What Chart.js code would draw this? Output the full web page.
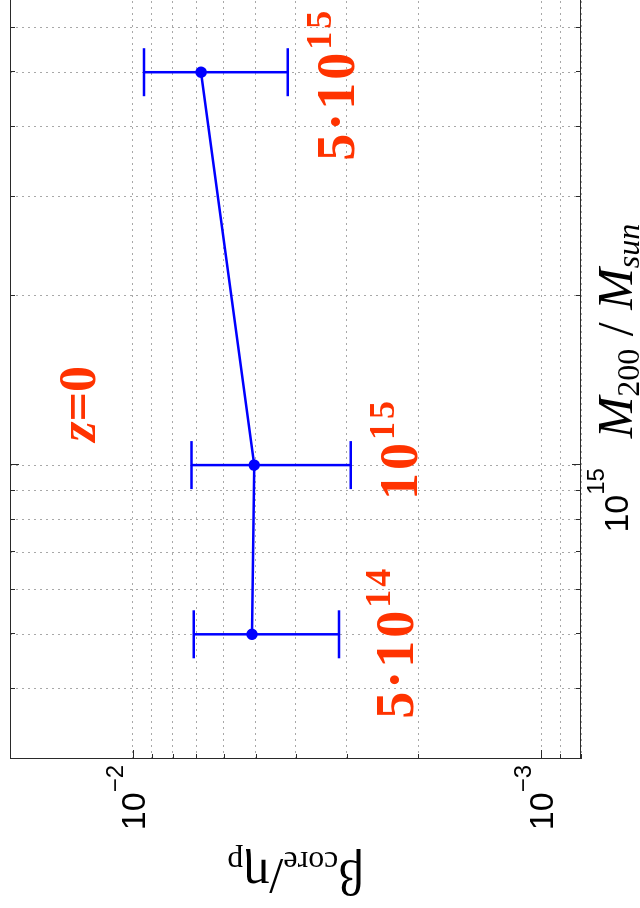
<!DOCTYPE html>
<html>
<head>
<meta charset="utf-8">
<script src="https://cdn.jsdelivr.net/npm/chart.js@4.4.1/dist/chart.umd.min.js"></script>
<style>
  html, body { margin: 0; padding: 0; background: #fff; overflow: hidden; }
  body { width: 640px; height: 908px; position: relative; }
  /* the figure is drawn landscape and turned a quarter turn to the left */
  #wrap { position: absolute; left: 0; top: 908px; width: 1012px; height: 640px;
          transform-origin: 0 0; transform: rotate(-90deg); background: #fff; }
</style>
</head>
<body>
<div id="wrap"><canvas id="chart"></canvas></div>
<script>
// data
const masses = [5e14, 1e15, 5e15];
const betaCore = [5.11e-3, 5.05e-3, 6.81e-3];
const betaUpper = [7.10e-3, 7.19e-3, 9.40e-3];
const betaLower = [3.13e-3, 2.93e-3, 4.18e-3];
const pointLabels = [['5·10', '14'], ['10', '15'], ['5·10', '15']];

// axes
const massGrid = [3e14, 4e14, 5e14, 6e14, 7e14, 8e14, 9e14, 1e15, 2e15, 3e15, 4e15, 5e15, 6e15, 7e15, 8e15, 9e15, 1e16];
const betaGrid = [8e-4, 9e-4, 1e-3, 2e-3, 3e-3, 4e-3, 5e-3, 6e-3, 7e-3, 8e-3, 9e-3, 1e-2, 2e-2];
const massTickValues = [1e15];
const massTickLabels = [['10', '15']];
const betaTickValues = [1e-3, 1e-2];
const betaTickLabels = [['10', '−3'], ['10', '−2']];

const BLUE = '#0000ff';
const RED = '#ff3300';
const SANS = '"Liberation Sans", Arial, sans-serif';
const SERIF = '"Liberation Serif", "Times New Roman", serif';
const labelOffset = [[-8, 74], [16, 66], [-12, 66]];   // px from point / lower bar end

// draw a row of text pieces (font / vertical shift each)
function runs(ctx, x, y, parts, align) {
  let w = 0;
  parts.forEach(p => { ctx.font = p.font; p.w = ctx.measureText(p.t).width; w += p.w; });
  let cx = align === 'center' ? x - w / 2 : align === 'right' ? x - w : x;
  ctx.textAlign = 'left';
  ctx.textBaseline = 'alphabetic';
  parts.forEach(p => { ctx.font = p.font; ctx.fillText(p.t, cx, y + (p.dy || 0)); cx += p.w; });
}

function line(ctx, x1, y1, x2, y2) {
  ctx.beginPath(); ctx.moveTo(x1, y1); ctx.lineTo(x2, y2); ctx.stroke();
}

const errorBars = {
  id: 'errorBars',
  beforeDatasetsDraw(chart) {
    const { ctx, scales: { x, y } } = chart;
    ctx.save();
    ctx.strokeStyle = BLUE;
    ctx.lineWidth = 2.5;
    masses.forEach((m, i) => {
      const px = x.getPixelForValue(m);
      const hi = y.getPixelForValue(betaUpper[i]);
      const lo = y.getPixelForValue(betaLower[i]);
      line(ctx, px, hi, px, lo);
      line(ctx, px - 24, hi, px + 24, hi);
      line(ctx, px - 24, lo, px + 24, lo);
    });
    ctx.restore();
  }
};

const decor = {
  id: 'decor',
  afterDraw(chart) {
    const { ctx, chartArea: ca, scales: { x, y } } = chart;
    ctx.save();

    // box and inward ticks
    ctx.strokeStyle = '#2a2a2a';
    ctx.lineWidth = 1;
    ctx.strokeRect(ca.left + 0.5, ca.top + 0.5, ca.right - ca.left - 1, ca.bottom - ca.top - 1);
    massGrid.forEach(m => {
      const p = Math.round(x.getPixelForValue(m)) + 0.5;
      const len = massTickValues.includes(m) ? 9 : 5;
      line(ctx, p, ca.bottom, p, ca.bottom - len);
      line(ctx, p, ca.top, p, ca.top + len);
    });
    betaGrid.forEach(b => {
      const p = Math.round(y.getPixelForValue(b)) + 0.5;
      const len = betaTickValues.includes(b) ? 9 : 5;
      line(ctx, ca.left, p, ca.left + len, p);
      line(ctx, ca.right, p, ca.right - len, p);
    });

    // tick labels
    ctx.fillStyle = '#000';
    massTickValues.forEach((m, i) => {
      runs(ctx, x.getPixelForValue(m) - 3, ca.bottom + 47, [
        { t: massTickLabels[i][0], font: '34px ' + SANS },
        { t: massTickLabels[i][1], font: '24px ' + SANS, dy: -24 }
      ], 'right');
    });
    betaTickValues.forEach((b, i) => {
      const v = y.getPixelForValue(b);
      runs(ctx, ca.left - 6, v + 12, [
        { t: betaTickLabels[i][0], font: '34px ' + SANS },
        { t: betaTickLabels[i][1], font: '24px ' + SANS, dy: -22 }
      ], 'right');
    });

    // axis titles
    runs(ctx, (ca.left + ca.right) / 2, ca.bottom + 51, [
      { t: 'M', font: 'italic 50px ' + SERIF },
      { t: '200', font: '32px ' + SERIF, dy: 7 },
      { t: ' / ', font: '50px ' + SERIF },
      { t: 'M', font: 'italic 50px ' + SERIF },
      { t: 'sun', font: 'italic 32px ' + SERIF, dy: 7 }
    ], 'center');
    ctx.save();
    ctx.translate(48, (ca.top + ca.bottom) / 2);
    ctx.rotate(-Math.PI / 2);
    runs(ctx, 0, 0, [
      { t: 'β', font: '50px ' + SERIF },
      { t: 'core', font: '32px ' + SERIF, dy: 8 },
      { t: '/η', font: '50px ' + SERIF },
      { t: 'p', font: '32px ' + SERIF, dy: 8 }
    ], 'center');
    ctx.restore();

    // red annotations
    ctx.fillStyle = RED;
    ctx.letterSpacing = '3px';
    masses.forEach((m, i) => {
      const px = x.getPixelForValue(m) + labelOffset[i][0];
      const py = y.getPixelForValue(betaLower[i]) + labelOffset[i][1];
      runs(ctx, px, py, [
        { t: pointLabels[i][0], font: 'bold 54px ' + SERIF },
        { t: pointLabels[i][1], font: 'bold 36px ' + SERIF, dy: -23 }
      ], 'center');
    });
    ctx.letterSpacing = '0px';
    runs(ctx, x.getPixelForValue(1.1e15), y.getPixelForValue(1.24e-2), [
      { t: 'z', font: 'bold italic 52px ' + SERIF },
      { t: '=0', font: 'bold 52px ' + SERIF }
    ], 'left');

    ctx.restore();
  }
};

const gridOpts = { color: '#a8a8a8', lineWidth: 1, drawTicks: false };

new Chart(document.getElementById('chart'), {
  type: 'line',
  data: {
    datasets: [{
      data: masses.map((m, i) => ({ x: m, y: betaCore[i] })),
      borderColor: BLUE,
      borderWidth: 2.5,
      pointRadius: 4.5,
      pointBackgroundColor: BLUE,
      pointBorderColor: BLUE,
      tension: 0
    }]
  },
  options: {
    responsive: true,
    maintainAspectRatio: false,
    animation: false,
    devicePixelRatio: 1,
    layout: { padding: { top: 10, right: 0, bottom: 0, left: 0 } },
    plugins: { legend: { display: false }, tooltip: { enabled: false } },
    scales: {
      x: {
        type: 'logarithmic',
        min: massGrid[0],
        max: massGrid[massGrid.length - 1],
        grid: gridOpts,
        border: { display: false, dash: [2, 4] },
        ticks: { display: false },
        afterBuildTicks: s => { s.ticks = massGrid.map(v => ({ value: v })); },
        afterFit: s => { s.height = 59; }
      },
      y: {
        type: 'logarithmic',
        min: betaGrid[0],
        max: betaGrid[betaGrid.length - 1],
        grid: gridOpts,
        border: { display: false, dash: [2, 4] },
        ticks: { display: false },
        afterBuildTicks: s => { s.ticks = betaGrid.map(v => ({ value: v })); },
        afterFit: s => { s.width = 149; }
      }
    }
  },
  plugins: [errorBars, decor]
});
</script>
</body>
</html>
